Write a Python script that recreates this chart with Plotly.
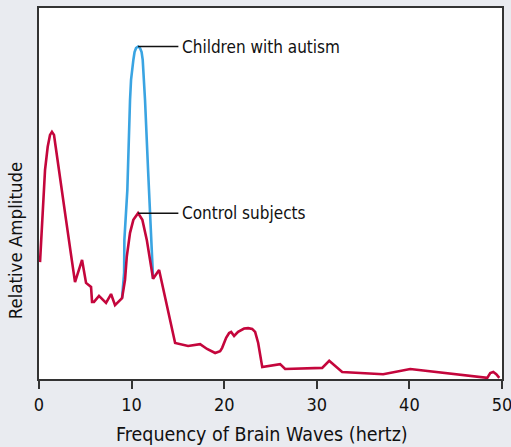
import plotly.graph_objects as go

# Control subjects (red)
control_x = [0.11, 0.36, 0.65, 0.94, 1.19, 1.40, 1.62, 1.80, 2.45, 2.92, 3.43, 3.89, 4.65, 5.08,
             5.62, 5.73, 5.94, 6.48, 7.24, 7.78, 8.21, 8.97, 9.29, 9.48, 9.83, 10.19, 10.70,
             11.16, 11.64, 12.07, 12.32, 12.97, 14.70, 16.10, 17.40, 18.15, 19.02, 19.56, 19.78,
             20.21, 20.53, 20.75, 21.07, 21.50, 22.15, 22.59, 23.02, 23.34, 23.67, 24.11, 26.04,
             26.58, 30.58, 31.34, 32.74, 37.17, 40.09, 48.41, 48.73, 49.06, 49.38, 49.71]
control_y = [31.5, 42.9, 56.3, 62.6, 65.8, 66.6, 65.8, 62.6, 51.8, 42.9, 34.0, 26.1, 32.1, 25.9,
             24.8, 20.8, 20.8, 22.4, 20.5, 22.9, 19.9, 21.8, 26.7, 33.0, 39.4, 42.9, 44.7,
             42.9, 37.5, 31.3, 27.0, 29.4, 9.7, 8.9, 9.4, 8.1, 7.0, 7.5, 8.4,
             11.1, 12.4, 12.7, 11.6, 12.7, 13.6, 13.7, 13.5, 12.7, 9.7, 3.2, 4.0,
             2.7, 3.0, 4.9, 1.9, 1.3, 2.7, 0.3, 1.6, 1.9, 1.3, 0.3]

# Children with autism (blue) — only where it departs from control
autism_x = [8.97, 9.19, 9.22, 9.54, 9.83, 9.94, 10.19, 10.32, 10.48, 10.70, 10.91, 11.08,
            11.20, 11.45, 11.78, 12.10, 12.21, 12.32]
autism_y = [21.8, 28.6, 37.5, 50.9, 75.2, 80.6, 86.0, 88.1, 89.2, 89.6, 89.2, 88.1,
            86.0, 75.2, 56.3, 37.5, 30.7, 27.0]

x_ticks = [0, 10, 20, 30, 40, 50]
labels = ["Children with autism", "Control subjects"]
label_x = 15.25

RED = "#c4063c"
BLUE = "#3aa4e2"
FONT = "DejaVu Sans Condensed, Roboto, sans-serif"

fig = go.Figure()
fig.add_trace(go.Scatter(x=autism_x, y=autism_y, mode="lines",
                         line=dict(color=BLUE, width=2.6), hoverinfo="skip"))
fig.add_trace(go.Scatter(x=control_x, y=control_y, mode="lines",
                         line=dict(color=RED, width=2.6), hoverinfo="skip"))

peaks = [(max(autism_y), autism_x[autism_y.index(max(autism_y))]),
         (max(control_y[20:35]), control_x[20 + control_y[20:35].index(max(control_y[20:35]))])]
for (py, px), lab in zip(peaks, labels):
    fig.add_shape(type="line", x0=px, x1=label_x - 0.2, y0=py, y1=py,
                  line=dict(color="#111111", width=1.5))
    fig.add_annotation(x=label_x, y=py, text=lab, showarrow=False, xanchor="left",
                       yanchor="middle", font=dict(family=FONT, size=17, color="#111111"))

fig.add_annotation(xref="paper", yref="paper", x=-0.05, y=0.155, text="Relative Amplitude",
                   textangle=-90, showarrow=False, xanchor="center", yanchor="bottom",
                   font=dict(family=FONT, size=18.5, color="#111111"))
fig.add_annotation(xref="paper", yref="paper", x=0.482, y=-0.150,
                   text="Frequency of Brain Waves (hertz)", showarrow=False,
                   xanchor="center", yanchor="middle",
                   font=dict(family=FONT, size=19.5, color="#111111"))

fig.update_xaxes(range=[0, 50], tickvals=x_ticks, ticks="outside", ticklen=8, tickwidth=1.5,
                 tickcolor="#333333", showline=True, linecolor="#333333", linewidth=2,
                 mirror=True, showgrid=False, zeroline=False, ticklabeloverflow="allow",
                 automargin=False,
                 tickfont=dict(family=FONT, size=18, color="#111111"))
fig.update_yaxes(range=[0, 100], showticklabels=False, ticks="", showline=True,
                 linecolor="#333333", linewidth=2, mirror=True, showgrid=False, zeroline=False,
                 automargin=False)

fig.update_layout(width=511, height=447, margin=dict(l=39, r=9, t=8, b=68),
                  paper_bgcolor="#e9ebf0", plot_bgcolor="white", showlegend=False)

fig.write_html("out.html", config={"displayModeBar": False},
               post_script="document.body.style.margin='0';document.body.style.background='#e9ebf0';")
